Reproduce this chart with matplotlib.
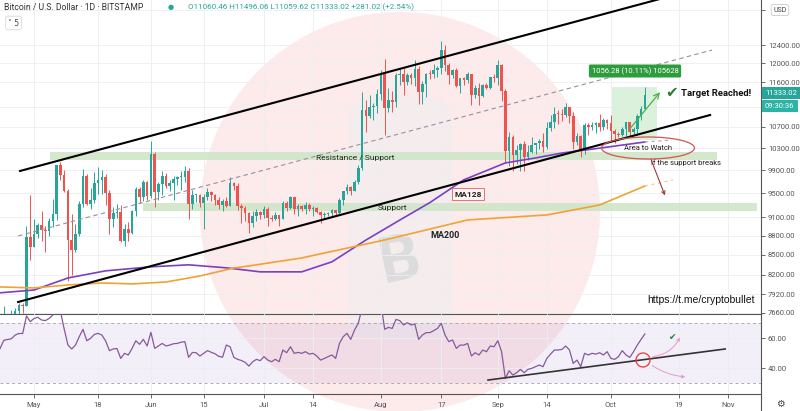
import numpy as np
import pandas as pd
import matplotlib
matplotlib.use("Agg")
import matplotlib.pyplot as plt
from matplotlib.patches import Ellipse, FancyBboxPatch, FancyArrowPatch
from matplotlib.ticker import FixedLocator, NullLocator

plt.rcParams['font.family'] = ['Roboto', 'DejaVu Sans']

# ---- daily candles, BTC/USD Bitstamp, 2020-04-22 .. 2020-10-10
opens = [6840, 7130, 7490, 7510, 7540, 7690, 7770, 7760, 8780,
         8620, 8830, 8970, 8890, 8880, 9030, 9150, 9990, 9810, 9540, 8730, 8570, 8820, 9310, 9790, 9310,
         9380, 9670, 9730, 9780, 9510, 9060, 9170, 9180, 8720, 8900, 8840, 9200, 9570, 9430, 9700,
         9450, 10200, 9520, 9660, 9800, 9620, 9670, 9750, 9780, 9780, 9880, 9320, 9470, 9470, 9340,
         9430, 9520, 9460, 9390, 9300, 9360, 9290, 9680, 9620, 9290, 9250, 9160, 9000, 9120, 9190,
         9140, 9230, 9090, 9070, 9130, 9070, 9340, 9250, 9430, 9230, 9290, 9240, 9300, 9240, 9250,
         9190, 9130, 9150, 9170, 9210, 9160, 9390, 9530, 9600, 9540, 9700, 9930, 11030, 10920, 11100, 11110,
         11350, 11800, 11070, 11230, 11190, 11740, 11770, 11600, 11750, 11680, 11880, 11400, 11570, 11780, 11770,
         11860, 11900, 12290, 11970, 11740, 11860, 11520, 11680, 11650, 11760, 11340, 11470, 11320, 11530, 11480, 11710,
         11680, 11970, 11410, 10240, 10510, 10170, 10260, 10370, 10130, 10230, 10360, 10400, 10440, 10330, 10680,
         10790, 10960, 10950, 10940, 11090, 10920, 10420, 10530, 10240, 10740, 10690, 10730, 10770, 10700, 10840,
         10780, 10620, 10570, 10550, 10670, 10790, 10600, 10670, 10920, 11060.46]
highs = [7150, 7750, 7610, 7700, 7720, 7790, 7790, 8950, 9460,
         9060, 9000, 9200, 8950, 9080, 9400, 10000, 10050, 9910, 9570, 9150, 8980, 9370, 9920, 9830,
         9590, 9870, 9950, 9900, 9840, 9560, 9270, 9310, 9300, 8980, 9020, 9210, 9600, 9610, 9720, 9710,
         10440, 10230, 9690, 9880, 9850, 9730, 9800, 9800, 9880, 9980, 9940, 9560, 9490, 9490, 9490,
         9580, 9540, 9480, 9440, 9400, 9430, 9780, 9690, 9670, 9320, 9280, 9190, 9200, 9230, 9200,
         9290, 9270, 9130, 9190, 9140, 9370, 9360, 9450, 9440, 9310, 9300, 9350, 9340, 9280, 9270,
         9200, 9180, 9190, 9230, 9220, 9420, 9540, 9650, 9630, 9730, 10000, 11400, 11240, 11340, 11180, 11450,
         11860, 12100, 11470, 11420, 11790, 11890, 11900, 11800, 11800, 12060, 11940, 11620, 11800, 11850, 11980,
         11930, 12480, 12410, 12010, 11880, 11890, 11690, 11710, 11810, 11770, 11530, 11590, 11550, 11590, 11710, 11760,
         12080, 11990, 11450, 10610, 10550, 10350, 10400, 10440, 10350, 10500, 10400, 10480, 10580, 10800, 10940,
         11100, 11040, 11050, 11180, 11100, 10990, 10580, 10540, 10780, 10770, 10800, 10800, 10950, 10870, 10850,
         10930, 10660, 10600, 10700, 10800, 10800, 10690, 10960, 11110, 11496.06]
lows = [6800, 7040, 7390, 7440, 7510, 7640, 7660, 7750, 8430,
        8620, 8760, 8710, 8540, 8790, 8940, 9050, 9720, 9520, 8110, 8200, 8540, 8800, 9270, 9300,
        9230, 9340, 9480, 9490, 9300, 8820, 8940, 9090, 8700, 8640, 8710, 8820, 9110, 9340, 9360, 9380,
        9420, 9270, 9380, 9460, 9580, 9530, 9380, 9640, 9560, 9700, 9070, 9240, 9350, 9260, 8910,
        9380, 9360, 9300, 9230, 9200, 9270, 9280, 9560, 9220, 9000, 9040, 8840, 8940, 9030, 9070,
        9090, 8950, 9040, 9050, 8950, 9060, 9200, 9230, 9150, 9120, 9200, 9150, 9200, 9120, 9160,
        9000, 9090, 9120, 9100, 9140, 9150, 9300, 9490, 9460, 9530, 9650, 9900, 10600, 10870, 10840, 10970,
        11230, 10550, 11000, 11000, 11100, 11540, 11340, 11530, 11570, 11520, 11150, 11160, 11300, 11660, 11690,
        11710, 11780, 11830, 11570, 11680, 11500, 11380, 11530, 11590, 11130, 11270, 11140, 11300, 11450, 11460, 11600,
        11540, 11210, 10030, 9970, 9880, 10010, 9880, 9880, 10080, 10210, 10190, 10290, 10220, 10280, 10630,
        10680, 10760, 10820, 10900, 10780, 10290, 10360, 10140, 10200, 10540, 10650, 10580, 10630, 10640, 10660,
        10440, 10390, 10500, 10520, 10530, 10530, 10560, 10540, 10830, 11059.62]
closes = [7130, 7490, 7510, 7540, 7690, 7770, 7760, 8780, 8620,
          8830, 8970, 8890, 8880, 9030, 9150, 9990, 9810, 9540, 8730, 8570, 8820, 9310, 9790, 9310,
          9380, 9670, 9730, 9780, 9510, 9060, 9170, 9180, 8720, 8900, 8840, 9200, 9570, 9430, 9700, 9450,
          10200, 9520, 9660, 9800, 9620, 9670, 9750, 9780, 9780, 9880, 9320, 9470, 9470, 9340, 9430,
          9520, 9460, 9390, 9300, 9360, 9290, 9680, 9620, 9290, 9250, 9160, 9000, 9120, 9190, 9140,
          9230, 9090, 9070, 9130, 9070, 9340, 9250, 9430, 9230, 9290, 9240, 9300, 9240, 9250, 9190,
          9130, 9150, 9170, 9210, 9160, 9390, 9530, 9600, 9540, 9700, 9930, 11030, 10920, 11100, 11110, 11350,
          11800, 11070, 11230, 11190, 11740, 11770, 11600, 11750, 11680, 11880, 11400, 11570, 11780, 11770, 11860,
          11900, 12290, 11970, 11740, 11860, 11520, 11680, 11650, 11760, 11340, 11470, 11320, 11530, 11480, 11710, 11680,
          11970, 11410, 10240, 10510, 10170, 10260, 10370, 10130, 10230, 10360, 10400, 10440, 10330, 10680, 10790,
          10960, 10950, 10940, 11090, 10920, 10420, 10530, 10240, 10740, 10690, 10730, 10770, 10700, 10840, 10780,
          10620, 10570, 10550, 10670, 10790, 10600, 10670, 10920, 11060, 11333.02]

# RSI(14), same days
rsi = [53, 58.5, 59, 59.5, 62, 63, 63, 74.7, 70.9,
       73, 73.8, 72, 71.6, 73, 75.3, 79, 78, 66, 55.3,
       52.7, 55.3, 60.9, 65.8, 58.2, 59.8, 62.4, 63.1, 62, 58,
       51.6, 52.7, 53, 46.4, 49.8, 48.7, 53, 58.2, 55.8, 59.1, 54.7,
       63.8, 53.1, 54.7, 56.4, 54.7, 55.3, 56.2, 56.4, 57.2, 57.6,
       47.1, 50.4, 50.2, 48.0, 49.8, 51.6, 50.5, 49.5, 47.8, 47.2,
       55.3, 54.2, 47.1, 45.8, 45.0, 43.8, 41.3, 44.2, 45.8, 44.9,
       47.6, 45.3, 44.2, 45.8, 44.2, 52.0, 50.2, 54.2, 49.8, 50.4,
       49.8, 50.9, 49.3, 49.8, 48.0, 45.3, 46.4, 47.6, 48.7, 46.4,
       56.4, 60.9, 63.1, 59.1, 65.3, 69.8,
       80, 78, 79, 79, 81, 83,
       65.8, 67.1, 66.4, 72.4, 71.6, 68.7, 70.2, 68.7, 69.3,
       59.1, 62.0, 63.6, 63.6, 64.9, 66.4, 69.8,
       62.0, 57.6, 58.7, 53.1, 55.3, 55.3, 56.4, 48.0, 50.2, 48.7, 52.0, 50.9, 54.7, 54.2, 58.2, 50.9,
       33.1, 38.2, 35.3, 36.9, 39.1, 36.9, 39.1, 39.8, 40.9, 42.0,
       40.9, 46.4, 49.3, 52.0, 52.0, 52.4, 54.7, 52.0, 43.1, 45.3, 40.9,
       49.8, 48.7, 49.8, 49.3, 50.2, 48.7, 50.9, 46.4, 45.8, 47.6, 51.6, 48.7, 47.1, 50.9, 55.3, 59.1, 62.7]

# moving averages (day from May 1, price)
ma128_day = [-9, 0, 9, 19, 31, 41, 51, 60, 71, 79, 88, 97, 105, 114, 125, 133, 140, 150, 162]
ma128_val = [7940, 7980, 8155, 8260, 8320, 8350, 8305, 8245, 8245, 8395, 8730, 9050, 9340, 9730,
             10030, 10120, 10210, 10300, 10415]
ma200_day = [-9, 0, 9, 18, 26, 35, 44, 53, 57, 71, 93, 115, 136, 150, 162]
ma200_val = [8024, 8010, 8053, 8082, 8068, 8096, 8184, 8303, 8333, 8454, 8732, 9052, 9134, 9299, 9622]

# drawings
upper_ch = ([-3.7, 167.4], [9886, 13506])
lower_ch = ([-4.2, 179.3], [7810, 10933])
mid_ch = ([-4.2, 179.8], [8795, 12289])
zone_rs = ([4.2, 181.2], 10077, 10234)
zone_sup = ([28.9, 191.8], 9197, 9332)
target_box = ([153.3, 165.3], 10447, 11503)
rsi_trend = ([120.4, 183.3], [32.0, 52.7])

price_ticks = [13200, 12400, 12000, 11600, 11100, 10700, 10300, 9900, 9500, 9100, 8800, 8500, 8200, 7920, 7660]
hidden_ticks = [13200, 11100]   # covered by the USD badge / price tags
tick_dates = ['2020-05-01', '2020-05-18', '2020-06-01', '2020-06-15', '2020-07-01', '2020-07-14',
              '2020-08-01', '2020-08-17', '2020-09-01', '2020-09-14', '2020-10-01', '2020-10-19', '2020-11-01']
tick_text = ['May', '18', 'Jun', '15', 'Jul', '14', 'Aug', '17', 'Sep', '14', 'Oct', '19', 'Nov']

W, H = 800, 411
t0 = pd.Timestamp('2020-05-01')
day = np.array((pd.date_range('2020-04-22', '2020-10-10') - t0).days)
xt = [(pd.Timestamp(d) - t0).days for d in tick_dates]

o, h, l, c = map(np.array, (opens, highs, lows, closes))
up = c >= o
GREEN, RED = '#26a69a', '#ef5350'

def fxy(x, y):
    return x / W, 1 - y / H

fig = plt.figure(figsize=(8, 4.11), dpi=100)
fig.patch.set_facecolor('white')

# background logo
fig.add_artist(Ellipse(fxy(400, 212), 400 / W, 400 / H, transform=fig.transFigure,
                       fc='#fdeaea', ec='none', zorder=-2))
fig.add_artist(FancyBboxPatch(fxy(356, 336), 88 / W, 236 / H, boxstyle='round,pad=0.01,rounding_size=0.05',
                              transform=fig.transFigure, fc='#f0f0f0', ec='none', alpha=0.55, zorder=-1))
fig.text(400 / W, 1 - 262 / H, 'B', fontsize=46, fontweight='bold', color='#dcdcdc',
         ha='center', va='center', rotation=12, zorder=-1)

ax = fig.add_axes([0, 1 - 314 / H, 761 / W, 314 / H])
axr = fig.add_axes([0, 1 - 394 / H, 761 / W, 80 / H], sharex=ax)
for a in (ax, axr):
    a.set_facecolor('none')
    for s in ('top', 'left'):
        a.spines[s].set_visible(False)
    a.spines['right'].set_color('#555')
    a.spines['bottom'].set_color('#555')
    a.spines['right'].set_linewidth(0.8)
    a.spines['bottom'].set_linewidth(0.8)
    a.grid(True, color='#eceef2', lw=0.6)
    a.set_axisbelow(True)

ax.set_yscale('log')
ax.set_xlim(-9.02, 192.8)
ax.set_ylim(7643, 13446)
ax.yaxis.set_major_locator(FixedLocator(price_ticks))
ax.yaxis.set_minor_locator(NullLocator())
ax.set_yticklabels(['' if p in hidden_ticks else '%.2f' % p for p in price_ticks])
ax.yaxis.tick_right()
ax.tick_params(axis='y', labelsize=5.5, colors='#555', length=3, width=0.6, pad=2)
ax.tick_params(axis='x', bottom=False, labelbottom=False)

# zones
ax.fill_between(zone_rs[0], zone_rs[1], zone_rs[2], color='#cfe6c8', alpha=0.9, lw=0, zorder=1)
ax.fill_between(zone_sup[0], zone_sup[1], zone_sup[2], color='#cfe6c8', alpha=0.9, lw=0, zorder=1)
ax.fill_between(target_box[0], target_box[1], target_box[2], color='#d6efd6', alpha=0.85, lw=0, zorder=1)

# candles
ax.vlines(day, l, h, colors=np.where(up, GREEN, RED), lw=0.7, zorder=3)
body_lo = np.minimum(o, c)
body_h = np.maximum(np.abs(c - o), body_lo * 0.0012)
ax.bar(day, body_h, bottom=body_lo, width=0.7, color=np.where(up, GREEN, RED), lw=0, zorder=3)

# moving averages
ax.plot(ma128_day, ma128_val, color='#7b3fc4', lw=1.2, zorder=4)
ax.plot(ma200_day, ma200_val, color='#f2a233', lw=1.2, zorder=4)
ax.plot([ma128_day[-1], 168.7], [ma128_val[-1], 10450], color='#b79bd6', lw=0.8, ls=(0, (3, 3)), zorder=4)
ax.plot([ma200_day[-1], 169.5], [ma200_val[-1], 9727], color='#f6c98a', lw=0.8, ls=(0, (3, 3)), zorder=4)

# channel
ax.plot(*upper_ch, color='black', lw=1.5, zorder=5)
ax.plot(*lower_ch, color='black', lw=1.5, zorder=5)
ax.plot(*mid_ch, color='#9b8ea3', lw=0.8, ls=(0, (4, 3)), zorder=5)

# target arrow
ax.annotate('', xy=(166.5, 11436), xytext=(157.3, 10603),
            arrowprops=dict(arrowstyle='->', color='#4caf50', lw=0.9), zorder=6)

# RSI pane
axr.set_ylim(22.7, 76)
axr.axhspan(30, 70, color='#7e57c2', alpha=0.09, lw=0, zorder=0)
axr.axhline(70, color='#b0a8b8', lw=0.7, ls=(0, (3, 3)))
axr.axhline(30, color='#b0a8b8', lw=0.7, ls=(0, (3, 3)))
axr.plot(day, rsi, color='#86599a', lw=0.9, zorder=3)
axr.plot(*rsi_trend, color='#333333', lw=1.2, zorder=4)
axr.yaxis.set_major_locator(FixedLocator([40, 60]))
axr.set_yticklabels(['40.00', '60.00'])
axr.yaxis.tick_right()
axr.tick_params(axis='y', labelsize=5.5, colors='#555', length=3, width=0.6, pad=2)
axr.set_xticks(xt)
axr.set_xticklabels(tick_text)
axr.tick_params(axis='x', labelsize=5.5, colors='#555', length=3, width=0.6, pad=3)

# ---- annotations (figure pixel positions)
def txt(x, y, s, **kw):
    kw.setdefault('va', 'center')
    return fig.text(x / W, 1 - y / H, s, **kw)

txt(4, 7, 'Bitcoin / U.S. Dollar · 1D · BITSTAMP', fontsize=6.2, color='#333')
txt(171, 7, '●', fontsize=5, color='#26a69a', ha='center', family='DejaVu Sans')
txt(188, 7, 'O11060.46 H11496.06 L11059.62 C11333.02 +281.02 (+2.54%)', fontsize=5.8, color='#26a69a')
txt(8, 23, '˅ 5', fontsize=5.5, color='#444', family='DejaVu Sans',
    bbox=dict(boxstyle='round,pad=0.3', fc='white', ec='#d8d8d8', lw=0.6))

txt(355, 158, 'Resistance / Support', fontsize=6, color='#222', ha='center')
txt(392, 208, 'Support', fontsize=6, color='#222', ha='center')
txt(468, 194, 'MA128', fontsize=6, color='#222', ha='center', fontweight='bold',
    bbox=dict(boxstyle='square,pad=0.25', fc='#fff4f4', ec='#e57373', lw=0.7))
txt(445, 235, 'MA200', fontsize=6.5, color='#222', ha='center', fontweight='bold')

fig.add_artist(Ellipse(fxy(648, 148), 93 / W, 22 / H, transform=fig.transFigure,
                       fc='none', ec='#d9534f', lw=0.9, zorder=6))
txt(648, 148, 'Area to Watch', fontsize=5.5, color='#222', ha='center')
txt(651, 163, 'if the support breaks', fontsize=5.5, color='#222')
fig.add_artist(FancyArrowPatch(fxy(650, 157), fxy(666, 198), transform=fig.transFigure,
                               arrowstyle='->', mutation_scale=6, color='#9c3b3b', lw=0.8, zorder=6))

txt(635, 71, '1056.28 (10.11%) 105628', fontsize=5.5, color='white', ha='center',
    bbox=dict(boxstyle='round,pad=0.35,rounding_size=0.2', fc='#2e9c3c', ec='none'))
txt(672, 92, '✔', fontsize=11, color='#2e7d32', ha='center', family='DejaVu Sans')
txt(681, 93, 'Target Reached!', fontsize=6.8, color='#111', fontweight='bold')

txt(755, 300, 'https://t.me/cryptobullet', fontsize=7.5, color='#111', ha='right', family='Liberation Sans')

# rsi drawings
fig.add_artist(Ellipse(fxy(643, 360), 14 / W, 14 / H, transform=fig.transFigure,
                       fc='none', ec='#e53935', lw=0.9, zorder=6))
fig.add_artist(FancyArrowPatch(fxy(650, 357), fxy(681, 335), transform=fig.transFigure,
                               connectionstyle='arc3,rad=0.3', arrowstyle='->', mutation_scale=5,
                               color='#e898c8', lw=0.7, zorder=6))
fig.add_artist(FancyArrowPatch(fxy(650, 364), fxy(688, 377), transform=fig.transFigure,
                               connectionstyle='arc3,rad=0.15', arrowstyle='->', mutation_scale=5,
                               color='#e898c8', lw=0.7, zorder=6))
txt(673, 337, '✔', fontsize=6.5, color='#2e7d32', ha='center', family='DejaVu Sans')

# price scale tags
txt(765, 93, '11333.02', fontsize=5.5, color='white',
    bbox=dict(boxstyle='square,pad=0.45', fc='#26a69a', ec='none'))
txt(765, 106, '09:30:36', fontsize=5.5, color='white',
    bbox=dict(boxstyle='square,pad=0.45', fc='#2bb3a5', ec='none'))
txt(780, 10, 'USD', fontsize=5, color='#444', ha='center',
    bbox=dict(boxstyle='round,pad=0.3', fc='white', ec='#cccccc', lw=0.6))
txt(780, 404, '⚙', fontsize=7, color='#444', ha='center', family='DejaVu Sans')
fig.add_artist(plt.Line2D([761 / W, 761 / W], [0, 1 - 394 / H], transform=fig.transFigure,
                          color='#555', lw=0.8))

fig.savefig('out.png', dpi=100)
